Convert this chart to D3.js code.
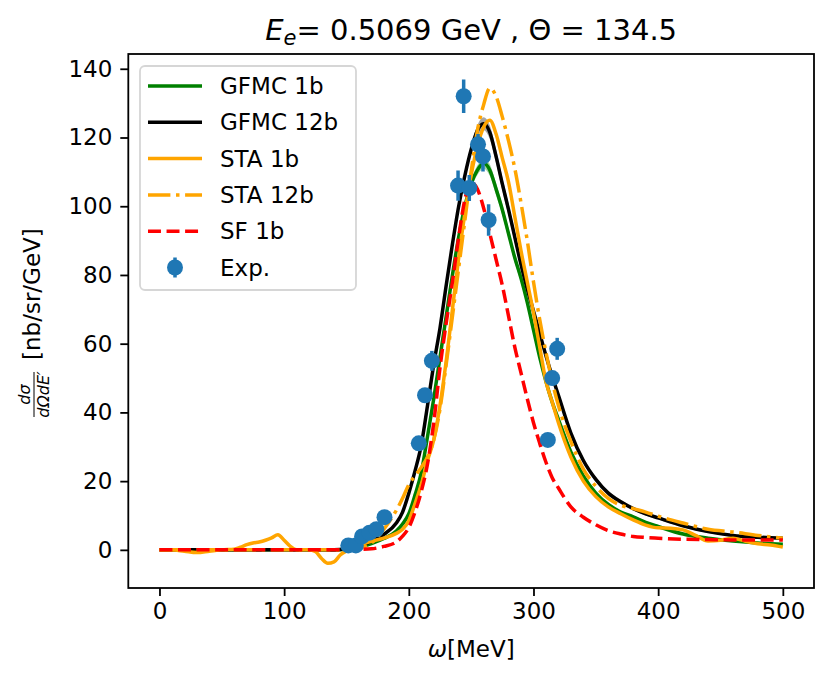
<!DOCTYPE html>
<html>
<head>
<meta charset="utf-8">
<script src="https://cdn.jsdelivr.net/npm/d3@7"></script>
<style>
  body { margin: 0; background: #fff; }
  svg { font-family: "DejaVu Sans", sans-serif; }
</style>
</head>
<body>
<svg id="chart" width="832" height="682"></svg>
<script>
// ---------------- data ----------------
const omegaGrid = [0, 50, 100, 140, 150, 160, 170, 180, 190, 195, 200, 205, 210, 215, 220, 225, 230, 235, 240, 245, 250, 255, 260, 265, 270, 275, 280, 285, 290, 295, 300, 305, 310, 315, 320, 330, 340, 350, 360, 370, 380, 390, 400, 420, 440, 460, 480, 500];

const gfmc12b = [0, 0, 0, 0, 0.3, 1.0, 2.5, 4.5, 7.8,
  11, 16.5, 23, 30.5, 42, 54, 64.5, 77, 89, 100, 109, 116.5, 122, 124, 121.5, 114.5, 106.5, 99, 91, 83, 76, 69.5, 63, 56.5, 50.5, 45,
  34, 26, 20.5, 16.5, 14, 12, 10.5, 9.3,
  7, 5.3, 4.2, 3.7, 3.4];
const gfmc12bBand = [0, 0, 0, 0, 0, 0, 0, 0.1, 0.1,
  0.2, 0.2, 0.3, 0.3, 0.4, 0.5, 0.6, 0.7, 0.8, 0.9, 1.1, 1.3, 1.6, 1.9, 2.0, 2.0, 1.9, 1.8, 1.7, 1.6, 1.5, 1.4, 1.3, 1.2, 1.1, 1.0,
  0.9, 0.8, 0.7, 0.6, 0.6, 0.5, 0.5, 0.5,
  0.4, 0.4, 0.3, 0.3, 0.3];

const gfmc1b = [0, 0, 0, 0, 0.2, 0.7, 1.8, 3.3, 5.5,
  7.5, 10.5, 16, 22.5, 33, 44, 56, 68, 80, 91, 100, 106.5, 110.5, 112.5, 110.5, 105, 99, 92, 85, 79, 72, 64, 56, 49, 43, 38,
  28.5, 21.5, 16.5, 13.2, 11, 9.6, 8, 6.8,
  4.6, 3.4, 2.6, 2.0, 1.6];
const gfmc1bBand = [0, 0, 0, 0, 0, 0, 0, 0.1, 0.1,
  0.1, 0.2, 0.2, 0.3, 0.3, 0.4, 0.5, 0.6, 0.7, 0.8, 1.0, 1.2, 1.4, 1.6, 1.7, 1.7, 1.6, 1.5, 1.4, 1.3, 1.2, 1.1, 1.0, 0.9, 0.8, 0.8,
  0.7, 0.6, 0.5, 0.5, 0.4, 0.4, 0.4, 0.3,
  0.3, 0.3, 0.2, 0.2, 0.2];

const sta12b = [0, 0, 0, 0, 0.2, 0.6, 2, 6, 11.5,
  15, 19, 21.5, 24, 27, 32, 41, 54, 68, 82, 96, 110, 122, 129.5, 134.4, 132, 126, 119, 111, 101, 90, 78, 67, 57.5, 49, 42,
  31.5, 23.5, 18.5, 15, 13, 12, 11, 9.8,
  7.8, 6, 5.2, 4.2, 3.4];

const sf1b = [0, 0, 0, 0, 0, 0.1, 0.3, 1, 2.3,
  4, 6.5, 11, 17, 25, 37, 53, 66, 78, 91, 102, 107, 105, 99.5, 92, 84.5, 77, 68, 59, 51.5, 44, 37, 31, 25.5, 21, 18,
  12.5, 9.5, 7.3, 5.6, 4.6, 3.9, 3.6, 3.4,
  3.1, 3.0, 2.9, 2.9, 2.9];

const sta1bOmega = [0, 10, 20, 30, 40, 50, 60,
  65, 70, 75, 80, 85, 90, 95, 100, 105, 110, 115, 120, 125, 130, 135, 140, 145, 150, 155, 160, 165, 170,
  180, 190,
  195, 200, 205, 210, 215, 220, 225, 230, 235, 240, 245, 250, 255, 260, 265, 270, 275, 280, 285, 290, 295, 300, 305, 310, 315, 320,
  330, 340, 350, 360, 370, 380, 390, 400, 410, 420, 430, 440, 450, 460, 470, 480, 490, 500];
const sta1b = [0, 0, -0.4, -0.8, -0.4, 0, 0.2,
  0.8, 1.5, 2, 2.3, 2.8, 3.5, 4.4, 2.8, 1, 0, 0, 0, -0.5, -2.5, -3.9, -3.5, -1.5, -0.3, 0.6, 1.2, 2, 2.5,
  3.4, 4.8,
  6, 8.5, 13.5, 19, 26, 32, 42, 55, 70, 85, 98, 109, 117.5, 123, 125, 121, 114, 107, 97, 87, 78, 69, 59, 49, 43, 37,
  27, 20, 15.5, 12.5, 10.5, 8.7, 7.2, 6.4, 6.3, 5.8, 4.2, 2.6, 2.8, 3.4, 2.5, 1.8, 1.4, 0.8];

const expOmega = [151.5, 157.5, 162.5, 168.5, 174, 180.5, 208, 213, 218.5, 239.5, 244, 248.5, 255.5, 259.5, 264, 311.5, 315, 319];
const expSigma = [1.3, 1.3, 3.9, 5.0, 6.0, 9.5, 31, 45, 55, 106, 132, 105.3, 118, 114.5, 96, 32, 50, 58.5];
const expError = [0.4, 0.4, 0.5, 0.6, 0.7, 0.9, 1.3, 1.8, 2.9, 4.4, 4.9, 3.8, 3.0, 4.4, 4.6, 1.3, 1.8, 3.2];

const xTicks = [0, 100, 200, 300, 400, 500];
const yTicks = [0, 20, 40, 60, 80, 100, 120, 140];

const legendLabels = ["GFMC 1b", "GFMC 12b", "STA 1b", "STA 12b", "SF 1b", "Exp."];

// ---------------- drawing ----------------
const svg = d3.select("#chart");
const L = 128.3, R = 814, T = 54, B = 588;
const x = d3.scaleLinear().domain([-25, 525]).range([L, R]);
const y = d3.scaleLinear().domain([-11.1, 144.3]).range([B, T]);

const lw = 3.5;
const plot = svg.append("g");
plot.append("clipPath").attr("id", "clip").append("rect")
  .attr("x", L).attr("y", T).attr("width", R - L).attr("height", B - T);
const pg = plot.append("g").attr("clip-path", "url(#clip)");

const lineGen = d3.line().curve(d3.curveMonotoneX);
const areaGen = d3.area().curve(d3.curveMonotoneX);

function pts(xs, ys) { return xs.map((v, i) => [x(v), y(ys[i])]); }

function band(ys, hw, color, op) {
  pg.append("path")
    .attr("d", areaGen.x(d => d[0]).y0(d => d[1]).y1(d => d[2])(
      omegaGrid.map((v, i) => [x(v), y(ys[i] - hw[i]), y(ys[i] + hw[i])])))
    .attr("fill", color).attr("opacity", op);
}
band(gfmc1b, gfmc1bBand, "#008000", 0.35);
band(gfmc12b, gfmc12bBand, "#000000", 0.35);

function curve(xs, ys, color, dash) {
  pg.append("path")
    .attr("d", lineGen(pts(xs, ys)))
    .attr("fill", "none").attr("stroke", color).attr("stroke-width", lw)
    .attr("stroke-dasharray", dash || null);
}
curve(omegaGrid, gfmc1b, "#008000");
curve(omegaGrid, gfmc12b, "#000000");
curve(sta1bOmega, sta1b, "#ffa500");
curve(omegaGrid, sta12b, "#ffa500", "22.4,5.6,3.5,5.6");
curve(omegaGrid, sf1b, "#ff0000", "12.95,5.6");

// experimental points
const eg = pg.append("g");
expOmega.forEach((v, i) => {
  eg.append("line")
    .attr("x1", x(v)).attr("x2", x(v))
    .attr("y1", y(expSigma[i] - expError[i])).attr("y2", y(expSigma[i] + expError[i]))
    .attr("stroke", "#1f77b4").attr("stroke-width", lw);
});
expOmega.forEach((v, i) => {
  eg.append("circle").attr("cx", x(v)).attr("cy", y(expSigma[i])).attr("r", 8).attr("fill", "#1f77b4");
});

// axes
const xAxis = svg.append("g").attr("transform", `translate(0,${B})`)
  .call(d3.axisBottom(x).tickValues(xTicks).tickSize(8).tickPadding(7).tickFormat(d3.format("d")));
const yAxis = svg.append("g").attr("transform", `translate(${L},0)`)
  .call(d3.axisLeft(y).tickValues(yTicks).tickSize(8).tickPadding(8).tickFormat(d3.format("d")));
[xAxis, yAxis].forEach(a => {
  a.select(".domain").remove();
  a.selectAll(".tick line").attr("stroke", "#000").attr("stroke-width", 1.8);
  a.selectAll(".tick text").attr("font-size", 23).attr("fill", "#000")
    .attr("font-family", "DejaVu Sans");
});

svg.append("rect").attr("x", L).attr("y", T).attr("width", R - L).attr("height", B - T)
  .attr("fill", "none").attr("stroke", "#000").attr("stroke-width", 1.8);

// title
const title = svg.append("text").attr("x", (L + R) / 2).attr("y", 40)
  .attr("text-anchor", "middle").attr("font-size", 29).attr("fill", "#000");
title.append("tspan").attr("font-style", "italic").text("E");
title.append("tspan").attr("font-style", "italic").attr("font-size", 21).attr("dy", 5).text("e");
title.append("tspan").attr("dy", -5).text("= 0.5069 GeV , Θ = 134.5");

// x label
const xl = svg.append("text").attr("x", (L + R) / 2).attr("y", 657)
  .attr("text-anchor", "middle").attr("font-size", 23).attr("fill", "#000");
xl.append("tspan").attr("font-style", "italic").text("ω");
xl.append("tspan").text("[MeV]");

// y label
const yl = svg.append("g").attr("transform", "translate(34,417) rotate(-90)");
yl.append("line").attr("x1", 0).attr("x2", 45).attr("y1", 0).attr("y2", 0)
  .attr("stroke", "#000").attr("stroke-width", 1);
yl.append("text").attr("x", 22.5).attr("y", -4).attr("text-anchor", "middle")
  .attr("font-size", 16).attr("font-style", "italic").text("dσ");
yl.append("text").attr("x", 22.5).attr("y", 15).attr("text-anchor", "middle")
  .attr("font-size", 16).attr("font-style", "italic").text("dΩdE′");
yl.append("text").attr("x", 57).attr("y", 6).attr("font-size", 23).text("[nb/sr/GeV]");

// legend
const lg = svg.append("g");
lg.append("rect").attr("x", 140).attr("y", 66).attr("width", 216).attr("height", 224)
  .attr("rx", 5).attr("fill", "#fff").attr("fill-opacity", 0.8)
  .attr("stroke", "#d6d6d6").attr("stroke-width", 1.8);
const legStyles = [
  { c: "#008000" }, { c: "#000000" }, { c: "#ffa500" },
  { c: "#ffa500", d: "22.4,5.6,3.5,5.6" }, { c: "#ff0000", d: "12.95,5.6" }, { c: "#1f77b4", m: true }
];
legendLabels.forEach((lab, i) => {
  const cy = 86 + i * 36.3;
  const s = legStyles[i];
  if (s.m) {
    lg.append("line").attr("x1", 175).attr("x2", 175).attr("y1", cy - 10).attr("y2", cy + 10)
      .attr("stroke", s.c).attr("stroke-width", lw);
    lg.append("circle").attr("cx", 175).attr("cy", cy).attr("r", 8).attr("fill", s.c);
  } else {
    lg.append("line").attr("x1", 148).attr("x2", 202).attr("y1", cy).attr("y2", cy)
      .attr("stroke", s.c).attr("stroke-width", lw).attr("stroke-dasharray", s.d || null);
  }
  lg.append("text").attr("x", 220).attr("y", cy + 8).attr("font-size", 23).attr("fill", "#000").text(lab);
});
</script>
</body>
</html>
